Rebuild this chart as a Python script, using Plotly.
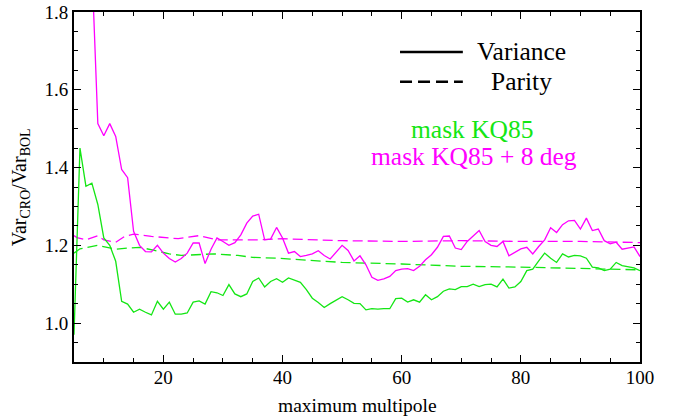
import plotly.graph_objects as go

ell = list(range(5, 101))

var_kq85 = [0.97, 1.45, 1.352, 1.36, 1.305, 1.219, 1.2, 1.159, 1.056, 1.049,
            1.028, 1.036, 1.028, 1.021, 1.056, 1.036, 1.054, 1.023, 1.023, 1.026,
            1.054, 1.057, 1.049, 1.081, 1.078, 1.071, 1.099, 1.075, 1.068, 1.075,
            1.107, 1.116, 1.093, 1.107, 1.114, 1.105, 1.116, 1.111, 1.105, 1.086,
            1.064, 1.053, 1.04, 1.05, 1.06, 1.068, 1.06, 1.051, 1.05, 1.034,
            1.037, 1.036, 1.037, 1.037, 1.063, 1.064, 1.054, 1.06, 1.054, 1.073,
            1.06, 1.068, 1.082, 1.088, 1.086, 1.094, 1.094, 1.1, 1.094, 1.099,
            1.1, 1.093, 1.113, 1.09, 1.093, 1.107, 1.135, 1.139, 1.16, 1.18,
            1.167, 1.156, 1.178, 1.17, 1.174, 1.173, 1.167, 1.144, 1.142, 1.135,
            1.139, 1.156, 1.148, 1.144, 1.142, 1.135]

var_kq85_8 = [3.2, 2.7, 2.2, 1.92, 1.513, 1.482, 1.513, 1.48, 1.395, 1.374,
              1.236, 1.2, 1.184, 1.183, 1.2, 1.18, 1.166, 1.157, 1.166, 1.18,
              1.206, 1.206, 1.153, 1.19, 1.219, 1.21, 1.2, 1.207, 1.227, 1.257,
              1.275, 1.28, 1.214, 1.216, 1.246, 1.219, 1.18, 1.184, 1.171, 1.174,
              1.178, 1.186, 1.174, 1.165, 1.184, 1.2, 1.187, 1.16, 1.173, 1.15,
              1.118, 1.11, 1.114, 1.12, 1.135, 1.139, 1.14, 1.135, 1.146, 1.163,
              1.176, 1.195, 1.223, 1.224, 1.193, 1.189, 1.21, 1.225, 1.238, 1.21,
              1.2, 1.197, 1.21, 1.173, 1.182, 1.191, 1.195, 1.178, 1.197, 1.214,
              1.245, 1.233, 1.253, 1.263, 1.264, 1.242, 1.27, 1.238, 1.242, 1.212,
              1.204, 1.208, 1.19, 1.193, 1.196, 1.171]

par_ell_kq85 = [5, 6, 9, 10, 12, 14, 16, 18.5, 21, 23, 26.5, 28.5, 32.5, 35, 39, 45, 50, 60, 70, 80, 90, 100]
par_kq85 = [1.18, 1.191, 1.2, 1.197, 1.19, 1.193, 1.195, 1.187, 1.178, 1.174, 1.176, 1.178,
            1.174, 1.169, 1.167, 1.16, 1.156, 1.152, 1.146, 1.144, 1.14, 1.137]

par_ell_kq85_8 = [5, 5.5, 7, 9, 10, 12, 13.5, 15, 18, 21, 22.5, 26, 29, 32, 36, 40, 50, 60, 70, 80, 90, 100]
par_kq85_8 = [1.225, 1.22, 1.214, 1.225, 1.214, 1.208, 1.223, 1.229, 1.223, 1.219, 1.217, 1.225,
              1.214, 1.214, 1.214, 1.217, 1.212, 1.21, 1.212, 1.21, 1.21, 1.207]

GREEN = "#14e614"
MAGENTA = "#ff00ff"
FONT = "Liberation Serif, Times New Roman, Times, serif"
KEY_SIZE = 25.5

fig = go.Figure()
fig.add_trace(go.Scatter(x=par_ell_kq85, y=par_kq85, mode="lines",
                         line=dict(color=GREEN, width=1.3, dash="10px,5px")))
fig.add_trace(go.Scatter(x=par_ell_kq85_8, y=par_kq85_8, mode="lines",
                         line=dict(color=MAGENTA, width=1.3, dash="10px,5px")))
fig.add_trace(go.Scatter(x=ell, y=var_kq85, mode="lines",
                         line=dict(color=GREEN, width=1.3)))
fig.add_trace(go.Scatter(x=ell, y=var_kq85_8, mode="lines",
                         line=dict(color=MAGENTA, width=1.3)))

axis_common = dict(showline=True, linecolor="black", linewidth=1.8, mirror="allticks",
                   ticks="inside", ticklen=7, tickwidth=1.3, tickcolor="black",
                   showgrid=False, zeroline=False, automargin=False,
                   tickfont=dict(family=FONT, size=19, color="black"))

fig.update_xaxes(range=[5, 100], tick0=0, dtick=20, ticklabelstandoff=-3,
                 minor=dict(dtick=5, tick0=0, ticks="inside", ticklen=4, tickcolor="black", showgrid=False),
                 **axis_common)
fig.update_yaxes(range=[0.9, 1.8], tick0=1.0, dtick=0.2, tickformat=".1f",
                 minor=dict(dtick=0.05, tick0=1.0, ticks="inside", ticklen=4, tickcolor="black", showgrid=False),
                 **axis_common)

fig.add_annotation(text="maximum multipole", xref="paper", yref="paper", x=0.5, y=-0.125,
                   xanchor="center", yanchor="middle", showarrow=False,
                   font=dict(family=FONT, size=19.5, color="black"))
fig.add_annotation(text="Var<sub>CRO</sub>/Var<sub>BOL</sub>", textangle=-90,
                   xref="paper", yref="paper", x=-0.095, y=0.5, xanchor="center", yanchor="middle",
                   showarrow=False, font=dict(family=FONT, size=20, color="black"))

# legend keys
fig.add_shape(type="line", xref="paper", yref="paper", x0=0.576, x1=0.687, y0=0.886, y1=0.886,
              line=dict(color="black", width=2.5))
fig.add_shape(type="line", xref="paper", yref="paper", x0=0.576, x1=0.687, y0=0.801, y1=0.801,
              line=dict(color="black", width=2.5, dash="12px,6px"))
fig.add_annotation(text="Variance", xref="paper", yref="paper", x=0.708, y=0.886,
                   xanchor="left", yanchor="middle", showarrow=False,
                   font=dict(family=FONT, size=KEY_SIZE, color="black"))
fig.add_annotation(text="Parity", xref="paper", yref="paper", x=0.733, y=0.801,
                   xanchor="left", yanchor="middle", showarrow=False,
                   font=dict(family=FONT, size=KEY_SIZE, color="black"))
fig.add_annotation(text="mask KQ85", xref="paper", yref="paper", x=0.704, y=0.663,
                   xanchor="center", yanchor="middle", showarrow=False,
                   font=dict(family=FONT, size=KEY_SIZE, color=GREEN))
fig.add_annotation(text="mask KQ85 + 8 deg", xref="paper", yref="paper", x=0.706, y=0.586,
                   xanchor="center", yanchor="middle", showarrow=False,
                   font=dict(family=FONT, size=KEY_SIZE, color=MAGENTA))

fig.update_layout(width=673, height=417, margin=dict(l=74, r=33, t=12, b=55, autoexpand=False),
                  paper_bgcolor="white", plot_bgcolor="white", showlegend=False,
                  font=dict(family=FONT))

fig.write_html("out.html")
